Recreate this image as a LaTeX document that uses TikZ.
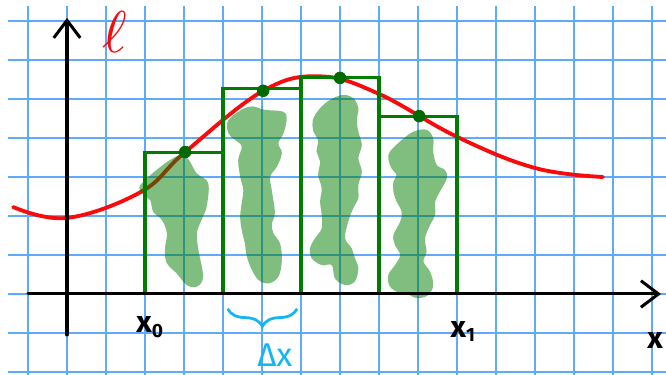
\documentclass[tikz,border=0pt]{standalone}
\usepackage{fontspec}
\setmainfont{Fira Sans}
\usetikzlibrary{arrows.meta,decorations.pathreplacing}
\definecolor{gridblue}{RGB}{95,170,250}
\definecolor{curvered}{RGB}{250,10,10}
\definecolor{rectgreen}{RGB}{0,125,0}
\definecolor{bracecyan}{RGB}{20,180,245}
\newcommand{\subx}[1]{x\raisebox{-3pt}{\fontsize{14}{14}\selectfont #1}}

\begin{document}
\begin{tikzpicture}[
    gridline/.style={draw=gridblue, line width=1.1pt},
    axis/.style={draw=black, line width=2.2pt, line cap=round, -{Straight Barb[length=0.45cm, width=0.68cm]}},
    fcurve/.style={draw=curvered, line width=2.8pt, line cap=round},
    blob/.style={fill=rectgreen, fill opacity=0.5},
    bar/.style={draw=rectgreen, line width=2.2pt},
    sample/.style={fill=rectgreen!85!black},
    lbl/.style={font=\fontsize{22}{26}\selectfont\bfseries, inner sep=0pt},
    brace/.style={draw=bracecyan, line width=2pt, decorate, decoration={brace, amplitude=0.45cm}}
]
\useasboundingbox (-1.718,-2.077) rectangle (15.359,7.538);
\clip (-1.718,-2.077) rectangle (15.359,7.538);

% grid paper
\draw[gridline, step=1] (-1.51,-2.2) grid (15.5,7.38);

% function
\draw[fcurve] plot[smooth, tension=0.65] coordinates {(-1.38,2.23) (0,1.95) (1.9,2.62) (3.03,3.64) (5.03,5.21) (6.5,5.58) (8,5.13) (10,4.03) (12,3.23) (13.74,3.0)};

% shaded areas
\fill[blob] plot[smooth cycle, tension=0.6] coordinates {(1.92,2.84) (2.90,3.56) (3.33,3.09) (3.62,2.84) (3.58,2.24) (3.45,1.90) (3.33,1.56) (3.37,1.13) (3.49,0.44) (3.33,0.19) (3.07,0.23) (2.81,0.53) (2.56,0.79) (2.51,1.13) (2.56,1.56) (2.43,1.90) (2.21,2.11) (2.13,2.41) (1.96,2.54)};
\fill[blob] plot[smooth cycle, tension=0.6] coordinates {(4.14,4.46) (4.65,4.80) (5.08,4.72) (5.55,4.67) (5.63,4.46) (5.55,4.12) (5.42,3.86) (5.51,3.61) (5.38,3.26) (5.21,3.01) (5.25,2.67) (5.33,2.07) (5.25,1.81) (5.29,1.56) (5.46,1.30) (5.51,0.87) (5.42,0.44) (5.16,0.27) (4.91,0.36) (4.74,0.62) (4.61,0.96) (4.56,1.30) (4.48,1.64) (4.44,1.98) (4.48,2.33) (4.52,2.67) (4.44,3.01) (4.39,3.44) (4.48,3.78) (4.31,3.95) (4.14,4.12)};
\fill[blob] plot[smooth cycle, tension=0.6] coordinates {(6.32,4.51) (6.62,4.89) (7.04,5.10) (7.34,5.02) (7.47,4.76) (7.43,4.46) (7.47,4.16) (7.56,3.82) (7.47,3.48) (7.56,3.14) (7.47,2.79) (7.47,2.45) (7.34,2.20) (7.21,1.85) (7.13,1.43) (7.30,1.17) (7.38,0.92) (7.47,0.66) (7.38,0.32) (7.13,0.23) (6.87,0.40) (6.79,0.74) (6.53,0.74) (6.27,0.92) (6.23,1.17) (6.36,1.43) (6.53,1.68) (6.53,2.03) (6.49,2.37) (6.53,2.71) (6.44,3.05) (6.49,3.39) (6.40,3.65) (6.44,3.95) (6.32,4.16)};
\fill[blob] plot[smooth cycle, tension=0.6] coordinates {(8.28,3.65) (8.54,3.91) (8.88,4.16) (9.22,4.21) (9.39,3.99) (9.39,3.65) (9.48,3.31) (9.69,3.18) (9.74,2.97) (9.56,2.62) (9.44,2.37) (9.44,2.03) (9.31,1.77) (9.18,1.43) (9.22,1.08) (9.14,0.83) (9.31,0.57) (9.39,0.23) (9.26,-0.03) (8.97,-0.11) (8.79,-0.03) (8.54,0.02) (8.28,0.19) (8.24,0.49) (8.41,0.74) (8.54,1.00) (8.41,1.26) (8.37,1.51) (8.54,1.85) (8.58,2.11) (8.45,2.37) (8.37,2.62) (8.37,2.88) (8.45,3.05) (8.32,3.22) (8.24,3.47)};

% rectangles
\foreach \xa/\h in {2/3.64, 4/5.26, 6/5.56, 8/4.54}
    \draw[bar] (\xa,0) rectangle ++(2,\h);

% midpoints
\foreach \xm/\ym in {3.03/3.64, 5.03/5.21, 7/5.54, 9.03/4.56}
    \fill[sample] (\xm,\ym) circle (0.16);

% axes
\draw[axis] (0,-1.05) -- (0,7.08);
\draw[axis] (-1.0,0) -- (15.23,0);

% labels
\node[text=curvered, scale=4.3] (fname) at (1.23,6.72) {$\ell$};
\node[lbl] (xzero) at (2.12,-0.85) {\subx{0}};
\node[lbl] (xone) at (10.15,-0.97) {\subx{1}};
\node[lbl] (xaxis) at (15.08,-1.18) {x};

% step width
\coordinate (dxr) at (5.9,-0.38);
\coordinate (dxl) at (4.12,-0.38);
\draw[brace] (dxr) -- (dxl);
\node[text=bracecyan, font=\fontsize{24}{28}\selectfont, inner sep=0pt] (dx) at (5.33,-1.56) {Δx};

\end{tikzpicture}
\end{document}
